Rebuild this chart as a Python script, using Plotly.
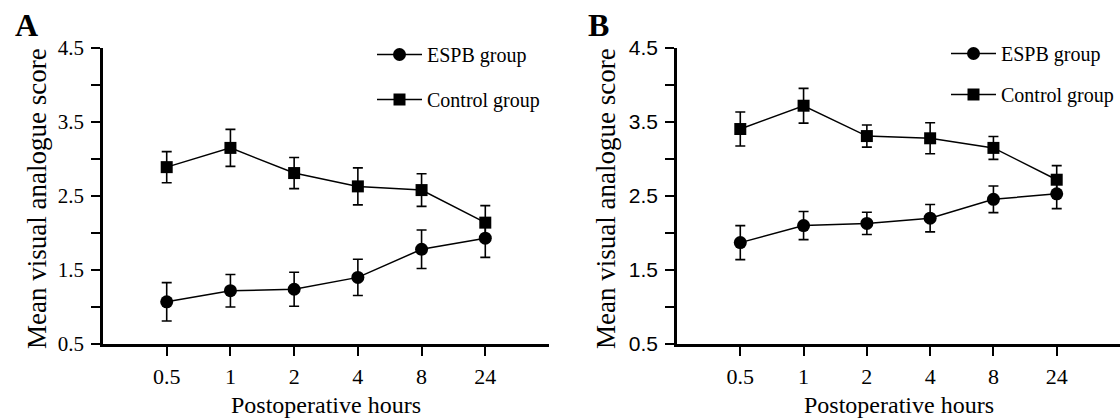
import plotly.graph_objects as go

# ---- data ----
hours = ["0.5", "1", "2", "4", "8", "24"]

espb_a = [1.07, 1.22, 1.24, 1.40, 1.78, 1.93]
espb_a_err = [0.26, 0.22, 0.23, 0.245, 0.26, 0.26]
ctrl_a = [2.89, 3.15, 2.81, 2.63, 2.58, 2.14]
ctrl_a_err = [0.21, 0.25, 0.21, 0.25, 0.22, 0.23]

espb_b = [1.87, 2.10, 2.13, 2.20, 2.455, 2.53]
espb_b_err = [0.23, 0.19, 0.15, 0.185, 0.18, 0.20]
ctrl_b = [3.405, 3.72, 3.31, 3.28, 3.15, 2.72]
ctrl_b_err = [0.23, 0.235, 0.15, 0.21, 0.155, 0.19]

y_tickvals = [0.5, 1.0, 1.5, 2.0, 2.5, 3.0, 3.5, 4.0, 4.5]
y_ticktext = ["0.5", "", "1.5", "", "2.5", "", "3.5", "", "4.5"]

series_names = ["ESPB group", "Control group"]
panel_labels = ["A", "B"]
x_title = "Postoperative hours"
y_title = "Mean visual analogue score"

SERIF = "Liberation Serif, Times New Roman, serif"
SANS = "Liberation Sans, Arial, sans-serif"

W, H = 1120, 420
TOP, BOTTOM = 48, 76
PLOT_H = H - TOP - BOTTOM

fig = go.Figure()


def add_series(y, err, name, symbol, size, xa, ya, legend):
    fig.add_trace(go.Scatter(
        x=hours, y=y, name=name, mode="lines+markers",
        xaxis=xa, yaxis=ya, legend=legend, legendgroup=legend + name,
        line=dict(color="black", width=1.5),
        marker=dict(symbol=symbol, size=size, color="black"),
        error_y=dict(type="data", array=err, visible=True,
                     color="black", thickness=1.6, width=5),
    ))


add_series(espb_a, espb_a_err, series_names[0], "circle", 13, "x", "y", "legend")
add_series(ctrl_a, ctrl_a_err, series_names[1], "square", 12, "x", "y", "legend")
add_series(espb_b, espb_b_err, series_names[0], "circle", 13, "x2", "y2", "legend2")
add_series(ctrl_b, ctrl_b_err, series_names[1], "square", 12, "x2", "y2", "legend2")

dom_a = [103 / W, 549 / W]
dom_b = [677 / W, 1.0]

xcommon = dict(
    type="category", range=[-1, 6], showline=True, linecolor="black",
    linewidth=2.5, ticks="outside", ticklen=9, tickwidth=2, tickcolor="black",
    showgrid=False, zeroline=False, tickfont=dict(family=SERIF, size=22, color="black"),
    ticklabelstandoff=2,
)
ycommon = dict(
    range=[0.5, 4.5], showline=True, linecolor="black", linewidth=2.5,
    ticks="outside", ticklen=9, tickwidth=2, tickcolor="black",
    tickvals=y_tickvals, ticktext=y_ticktext, showgrid=False, zeroline=False,
    ticklabelstandoff=3,
)

legcommon = dict(
    font=dict(family=SERIF, size=20, color="black"), bgcolor="rgba(0,0,0,0)",
    itemwidth=45, traceorder="grouped",
    xanchor="left", yanchor="top", itemclick=False,
)

fig.update_layout(
    width=W, height=H,
    margin=dict(l=0, r=0, t=TOP, b=BOTTOM),
    paper_bgcolor="white", plot_bgcolor="white",
    xaxis=dict(domain=dom_a, anchor="y", **xcommon),
    yaxis=dict(domain=[0, 1], anchor="x",
               tickfont=dict(family=SERIF, size=21, color="black"), **ycommon),
    xaxis2=dict(domain=dom_b, anchor="y2", **xcommon),
    yaxis2=dict(domain=[0, 1], anchor="x2",
                tickfont=dict(family=SANS, size=21, color="black"), **ycommon),
    legend=dict(x=372 / W, y=1 + (TOP - 35) / PLOT_H, tracegroupgap=16, **legcommon),
    legend2=dict(x=946 / W, y=1 + (TOP - 34) / PLOT_H, tracegroupgap=12, **legcommon),
    showlegend=True,
)

annotations = []
for lab, xc, dom in [(panel_labels[0], 26, dom_a), (panel_labels[1], 598, dom_b)]:
    annotations.append(dict(
        text="<b>%s</b>" % lab, x=xc / W, y=1 + (TOP - 25) / PLOT_H,
        xref="paper", yref="paper", showarrow=False, xanchor="center", yanchor="middle",
        font=dict(family=SERIF, size=32, color="black"),
    ))
    annotations.append(dict(
        text=x_title, x=(dom[0] + dom[1]) / 2, y=-(405 - (H - BOTTOM)) / PLOT_H,
        xref="paper", yref="paper", showarrow=False, xanchor="center", yanchor="middle",
        font=dict(family=SERIF, size=24, color="black"),
    ))
for xc in [37, 606]:
    annotations.append(dict(
        text=y_title, x=xc / W, y=0.49,
        xref="paper", yref="paper", showarrow=False, xanchor="center", yanchor="middle",
        textangle=-90, font=dict(family=SERIF, size=27, color="black"),
    ))
fig.update_layout(annotations=annotations)

fig.write_html(
    "out.html",
    config={"displayModeBar": False},
    post_script="document.body.style.margin='0';document.body.style.overflow='hidden';",
)
